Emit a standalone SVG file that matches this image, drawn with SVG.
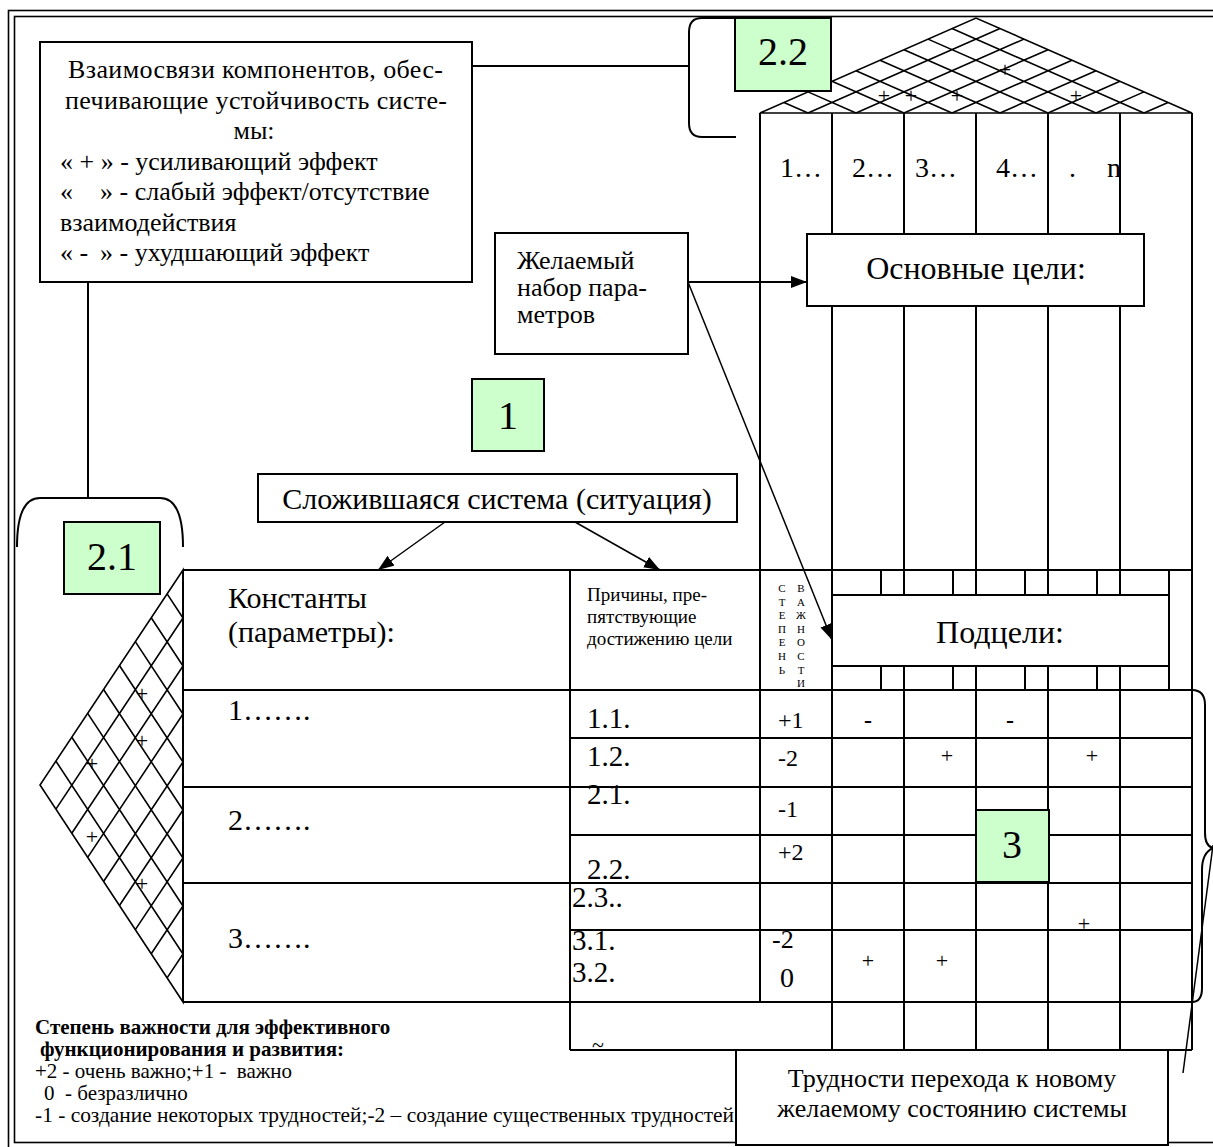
<svg xmlns="http://www.w3.org/2000/svg" width="1213" height="1147" viewBox="0 0 1213 1147">
<defs>
<style>
text{font-family:"Liberation Serif","Times New Roman",serif;fill:#000}
.box{fill:#fff;stroke:#000;stroke-width:2}
.grn{fill:#ccffcc;stroke:#000;stroke-width:2}
.ln{stroke:#000;stroke-width:2;fill:none}
.hat{stroke:#000;stroke-width:1.6;fill:none}
.cn{stroke:#000;stroke-width:1.5;fill:none}
.big{font-size:40px;text-anchor:middle}
.num{font-size:29px}
.pl{font-size:22px;text-anchor:middle}
.pre{white-space:pre}
</style>
<marker id="ah" viewBox="0 0 16 12" refX="16" refY="6" markerWidth="16" markerHeight="12" markerUnits="userSpaceOnUse" orient="auto">
<path d="M0,0 L16,6 L0,12 z" fill="#000"/>
</marker>
</defs>
<rect width="1213" height="1147" fill="#fff"/>

<g id="border" fill="none" stroke="#000" stroke-width="1.6">
<rect x="8.5" y="10.5" width="1220" height="1150"/>
<rect x="14.5" y="16.5" width="1210" height="1126"/>
</g>

<g id="roof">
<polygon points="760,113 976,18 1192,113" class="hat"/>
<path class="hat" d="M808,113L1000,28.56M856,113L1024,39.11M904,113L1048,49.67M952,113L1072,60.22M1000,113L1096,70.78M1048,113L1120,81.33M1096,113L1144,91.89M1144,113L1168,102.44
M1144,113L952,28.56M1096,113L928,39.11M1048,113L904,49.67M1000,113L880,60.22M952,113L856,70.78M904,113L832,81.33M856,113L808,91.89M808,113L784,102.44"/>
<text class="pl" x="884" y="103">+</text>
<text class="pl" x="911" y="103">+</text>
<text class="pl" x="957" y="103">+</text>
<text class="pl" x="1005" y="77">+</text>
<text class="pl" x="1076" y="103">+</text>
</g>

<g id="grid" class="ln">
<path d="M760,113V1002M832,113V1050M904,113V1050M976,113V1050M1048,113V1050M1120,113V1050M1192,113V1050"/>
<path d="M881,570V690M953,570V690M1025,570V690M1097,570V690M1169,570V690"/>
<path d="M183,570V1002M570,570V1050"/>
<path d="M183,570H1192M183,690H1192M570,738H1192M183,787H1192M570,835H1192M183,883H1192M570,930H1192M183,1002H1192M570,1050H1192"/>
</g>

<g id="hatch-left">
<polygon points="183,570 40,785 183,1002" class="hat"/>
<path class="hat" d="M183,618L55.89,809.11M183,666L71.78,833.22M183,714L87.67,857.33M183,762L103.56,881.44M183,810L119.44,905.56M183,858L135.33,929.67M183,906L151.22,953.78M183,954L167.11,977.89
M183,618L167.11,593.89M183,666L151.22,617.78M183,714L135.33,641.67M183,762L119.44,665.56M183,810L103.56,689.44M183,858L87.67,713.33M183,906L71.78,737.22M183,954L55.89,761.11"/>
<text class="pl" x="142" y="701">+</text>
<text class="pl" x="142" y="748">+</text>
<text class="pl" x="92" y="771">+</text>
<text class="pl" x="92" y="844">+</text>
<text class="pl" x="142" y="891">+</text>
</g>

<g id="col-labels">
<text x="780" y="177" font-size="28">1…</text>
<text x="852" y="177" font-size="28">2…</text>
<text x="915" y="177" font-size="28">3…</text>
<text x="996" y="177" font-size="28">4…</text>
<text x="1069" y="177" font-size="28">.</text>
<text x="1107" y="177" font-size="28">n</text>
</g>

<g id="table-text">
<text x="228" y="608" font-size="30">Константы</text>
<text x="228" y="642" font-size="30">(параметры):</text>
<text x="228" y="720" font-size="30">1…….</text>
<text x="228" y="830" font-size="30">2…….</text>
<text x="228" y="948" font-size="30">3…….</text>
<text x="587" y="601" font-size="19">Причины, пре-</text>
<text x="587" y="623" font-size="19">пятствующие</text>
<text x="587" y="645" font-size="19">достижению цели</text>
<g font-size="11" text-anchor="middle">
<text x="782" y="592">С</text><text x="782" y="605.6">Т</text><text x="782" y="619.2">Е</text><text x="782" y="632.8">П</text><text x="782" y="646.4">Е</text><text x="782" y="660">Н</text><text x="782" y="673.6">Ь</text>
<text x="801" y="592">В</text><text x="801" y="605.6">А</text><text x="801" y="619.2">Ж</text><text x="801" y="632.8">Н</text><text x="801" y="646.4">О</text><text x="801" y="660">С</text><text x="801" y="673.6">Т</text><text x="801" y="687.2">И</text>
</g>
<text class="num" x="587" y="728">1.1.</text>
<text class="num" x="587" y="766">1.2.</text>
<text class="num" x="587" y="804">2.1.</text>
<text class="num" x="587" y="879">2.2.</text>
<text class="num" x="572" y="907">2.3..</text>
<text class="num" x="572" y="950">3.1.</text>
<text class="num" x="572" y="982">3.2.</text>
<text x="778" y="728" font-size="24">+1</text>
<text x="778" y="766" font-size="24">-2</text>
<text x="778" y="817" font-size="24">-1</text>
<text x="778" y="860" font-size="24">+2</text>
<text x="772" y="948" font-size="26">-2</text>
<text x="780" y="987" font-size="28">0</text>
<text x="868" y="728" font-size="24" font-weight="bold" text-anchor="middle">-</text>
<text x="1010" y="728" font-size="24" font-weight="bold" text-anchor="middle">-</text>
<text class="pl" x="947" y="763">+</text>
<text class="pl" x="1092" y="763">+</text>
<text class="pl" x="1084" y="931">+</text>
<text class="pl" x="868" y="968">+</text>
<text class="pl" x="942" y="968">+</text>
<text x="592" y="1052" font-size="22">~</text>
</g>

<g id="node-links">
<rect class="box" x="40" y="42" width="432" height="240"/>
<g font-size="26">
<text x="68" y="78" textLength="375" lengthAdjust="spacing">Взаимосвязи компонентов, обес-</text>
<text x="65" y="108.5" textLength="382" lengthAdjust="spacing">печивающие устойчивость систе-</text>
<text x="254" y="139" text-anchor="middle">мы:</text>
<text x="60" y="169.5">« + » - усиливающий эффект</text>
<text x="60" y="200"><tspan>«</tspan><tspan x="100">» - слабый эффект/отсутствие</tspan></text>
<text x="60" y="230.5">взаимодействия</text>
<text x="60" y="261"><tspan>« -</tspan><tspan x="100">» - ухудшающий эффект</tspan></text>
</g>
</g>

<g id="node-2-2">
<rect class="grn" x="735" y="18" width="96" height="73"/>
<text class="big" x="783" y="65">2.2</text>
</g>

<g id="node-desired">
<rect class="box" x="495" y="233" width="193" height="121"/>
<text x="517" y="269" font-size="26">Желаемый</text>
<text x="517" y="296" font-size="26">набор пара-</text>
<text x="517" y="323" font-size="26">метров</text>
</g>

<g id="node-goals">
<rect class="box" x="807" y="234" width="337" height="72"/>
<text x="976" y="279" font-size="32" text-anchor="middle">Основные цели:</text>
</g>

<g id="node-1">
<rect class="grn" x="472" y="379" width="72" height="72"/>
<text class="big" x="508" y="429">1</text>
</g>

<g id="node-situation">
<rect class="box" x="258" y="474" width="479" height="48"/>
<text x="497" y="509" font-size="30" text-anchor="middle">Сложившаяся система (ситуация)</text>
</g>

<g id="node-2-1">
<rect class="grn" x="64" y="522" width="96" height="72"/>
<text class="big" x="112" y="570">2.1</text>
</g>

<g id="node-subgoals">
<rect class="box" x="832" y="595" width="337" height="71"/>
<text x="1000" y="643" font-size="32" text-anchor="middle">Подцели:</text>
</g>

<g id="node-3">
<rect class="grn" x="976" y="810" width="73" height="72"/>
<text class="big" x="1012" y="858">3</text>
</g>

<g id="node-difficulties">
<rect class="box" x="736" y="1050" width="432" height="95"/>
<text x="952" y="1087" font-size="26" text-anchor="middle">Трудности перехода к новому</text>
<text x="952" y="1117" font-size="26" text-anchor="middle">желаемому состоянию системы</text>
</g>

<g id="legend">
<text x="35" y="1034" font-size="21" font-weight="bold">Степень важности для эффективного</text>
<text x="40" y="1056" font-size="21" font-weight="bold">функционирования и развития:</text>
<text x="35" y="1078" font-size="21" class="pre" xml:space="preserve">+2 - очень важно;+1 -  важно</text>
<text x="44" y="1100" font-size="21" class="pre" xml:space="preserve">0  - безразлично</text>
<text x="35" y="1122" font-size="21" textLength="699" lengthAdjust="spacingAndGlyphs">-1 - создание некоторых трудностей;-2 – создание существенных трудностей</text>
</g>

<g id="connectors" class="cn">
<path class="ln" d="M472,66H688"/>
<path class="ln" d="M736,18H702Q689,18 689,32V123Q689,137 702,137H736"/>
<path class="ln" d="M88,282V498"/>
<path class="ln" d="M17,547Q17,498 40,498H160Q183,498 183,547"/>
<path class="ln" d="M1192,690Q1205,690 1205,705V833Q1205,846 1213,848"/>
<path class="ln" d="M1213,848Q1202,853 1202,870V988Q1202,1002 1192,1002"/>
<path d="M1213,845L1183,1073"/>
<path d="M688,282H807" marker-end="url(#ah)" stroke-width="2"/>
<path d="M688,282L832,640" marker-end="url(#ah)"/>
<path d="M445,522L378,570" marker-end="url(#ah)"/>
<path d="M575,522L660,570" marker-end="url(#ah)"/>
</g>
</svg>
